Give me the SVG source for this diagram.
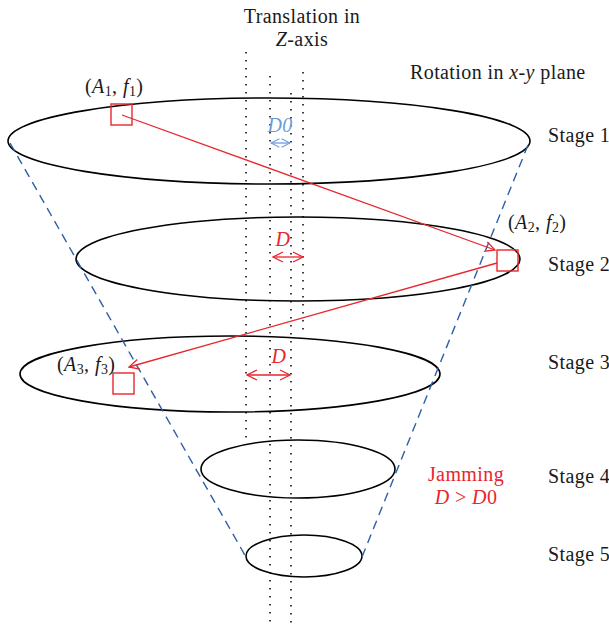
<svg xmlns="http://www.w3.org/2000/svg" width="609" height="627" viewBox="0 0 609 627">
<defs>
<style>
.t{font-family:"Liberation Serif","DejaVu Serif",serif;font-size:20px;fill:#1a1a1a;letter-spacing:0.4px}
.i{font-style:italic}
.s{font-size:14px}
.r{fill:#e8262d}
.b{fill:#6f9bd8}
.ell{fill:none;stroke:#000;stroke-width:1.6}
.dot{stroke:#000;stroke-width:1.5;stroke-dasharray:1.5 6.5;fill:none}
.dash{stroke:#2e5ea8;stroke-width:1.4;stroke-dasharray:9 6;fill:none}
.red{stroke:#e8262d;stroke-width:1.3;fill:none}
.sq{stroke:#e8262d;stroke-width:1.4;fill:none}
</style>
<marker id="ar" viewBox="0 0 12 12" refX="11" refY="6" markerWidth="12" markerHeight="12" markerUnits="userSpaceOnUse" orient="auto-start-reverse">
<path d="M1,1 L11,6 L1,11" fill="none" stroke="#e8262d" stroke-width="1.3"/>
</marker>
<marker id="ab" viewBox="0 0 12 12" refX="11" refY="6" markerWidth="10" markerHeight="10" markerUnits="userSpaceOnUse" orient="auto-start-reverse">
<path d="M1,1 L11,6 L1,11" fill="none" stroke="#6f9bd8" stroke-width="1.3"/>
</marker>
</defs>
<rect width="609" height="627" fill="#fff"/>
<g id="axes">
<line class="dot" x1="246" y1="52" x2="246" y2="440"/>
<line class="dot" x1="270" y1="76" x2="270" y2="627"/>
<line class="dot" x1="291" y1="93" x2="291" y2="627"/>
<line class="dot" x1="303" y1="72" x2="303" y2="334"/>
</g>
<g id="stage1"><ellipse class="ell" cx="269" cy="141" rx="261" ry="43"/><text class="t" x="548" y="142">Stage 1</text></g>
<g id="stage2"><ellipse class="ell" cx="298" cy="259" rx="222" ry="42"/><text class="t" x="548" y="271">Stage 2</text></g>
<g id="stage3"><ellipse class="ell" cx="230" cy="374" rx="210" ry="38"/><text class="t" x="548" y="369">Stage 3</text></g>
<g id="stage4"><ellipse class="ell" cx="298" cy="469" rx="97" ry="29"/><text class="t" x="548" y="483">Stage 4</text></g>
<g id="stage5"><ellipse class="ell" cx="304" cy="556" rx="58" ry="21"/><text class="t" x="548" y="561">Stage 5</text></g>
<g id="connectors">
<line class="dash" x1="10" y1="143" x2="246" y2="557"/>
<line class="dash" x1="528" y1="145" x2="362" y2="557"/>
<line class="red" x1="122" y1="115" x2="495" y2="250" marker-end="url(#ar)"/>
<line class="red" x1="497" y1="263" x2="129" y2="367" marker-end="url(#ar)"/>
<line stroke="#6f9bd8" stroke-width="1.3" x1="271" y1="143" x2="290" y2="143" marker-start="url(#ab)" marker-end="url(#ab)"/>
<line class="red" x1="273" y1="257" x2="303" y2="257" marker-start="url(#ar)" marker-end="url(#ar)"/>
<line class="red" x1="247" y1="375" x2="290" y2="375" marker-start="url(#ar)" marker-end="url(#ar)"/>
</g>
<g id="p1"><rect class="sq" x="111" y="104" width="21" height="21"/><text class="t" x="85" y="93">(<tspan class="i">A</tspan><tspan class="s" dy="3">1</tspan><tspan dy="-3">, </tspan><tspan class="i">f</tspan><tspan class="s" dy="3">1</tspan><tspan dy="-3">)</tspan></text></g>
<g id="p2"><rect class="sq" x="497" y="250" width="21" height="21"/><text class="t" x="508" y="229">(<tspan class="i">A</tspan><tspan class="s" dy="3">2</tspan><tspan dy="-3">, </tspan><tspan class="i">f</tspan><tspan class="s" dy="3">2</tspan><tspan dy="-3">)</tspan></text></g>
<g id="p3"><rect class="sq" x="113" y="373" width="21" height="21"/><text class="t" x="57" y="371">(<tspan class="i">A</tspan><tspan class="s" dy="3">3</tspan><tspan dy="-3">, </tspan><tspan class="i">f</tspan><tspan class="s" dy="3">3</tspan><tspan dy="-3">)</tspan></text></g>
<g id="labels">
<text class="t" x="302" y="23" text-anchor="middle">Translation in</text>
<text class="t" x="302" y="46" text-anchor="middle"><tspan class="i">Z</tspan>-axis</text>
<text class="t" x="410" y="79">Rotation in <tspan class="i">x</tspan>-<tspan class="i">y</tspan> plane</text>
<text class="t i b" x="280" y="132" text-anchor="middle">D0</text>
<text class="t i r" x="283" y="246" text-anchor="middle">D</text>
<text class="t i r" x="279" y="363" text-anchor="middle">D</text>
<text class="t r" x="466" y="481" text-anchor="middle">Jamming</text>
<text class="t r" x="466" y="504" text-anchor="middle"><tspan class="i">D</tspan> &gt; <tspan class="i">D</tspan>0</text>
</g>
</svg>
